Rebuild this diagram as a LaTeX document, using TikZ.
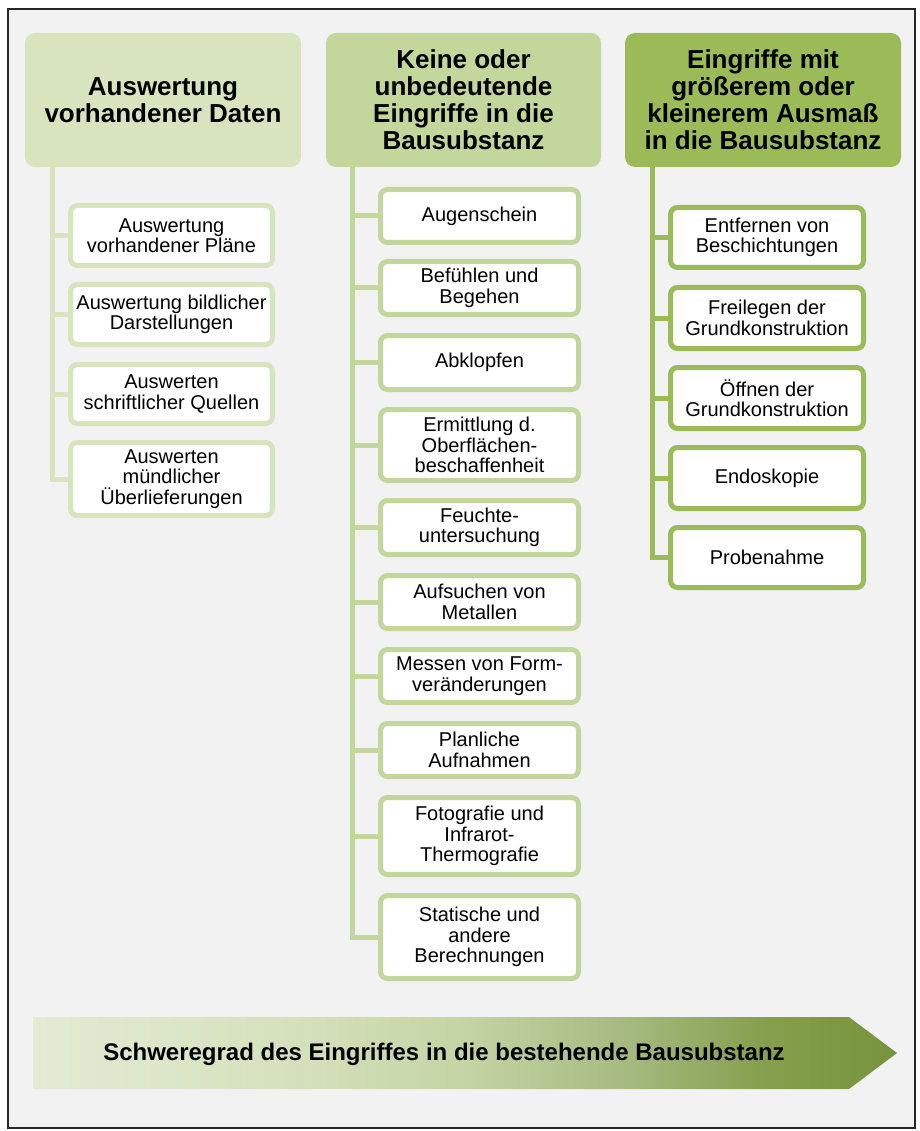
\documentclass[tikz,border=0pt]{standalone}
\usepackage{fontspec}
\setmainfont{Liberation Sans}
\definecolor{bg}{HTML}{F2F2F2}
\definecolor{gA}{HTML}{D7E4BD}
\definecolor{gB}{HTML}{C3D69B}
\definecolor{gC}{HTML}{9BBB59}
\definecolor{frame}{HTML}{262626}
\definecolor{s0}{HTML}{E3EBD5}
\definecolor{s1}{HTML}{D5E1BC}
\definecolor{s2}{HTML}{C4D4A4}
\definecolor{s3}{HTML}{A3B87D}
\definecolor{s4}{HTML}{86A04F}
\definecolor{s5}{HTML}{77933C}
\pgfdeclarehorizontalshading{arrowshade}{100bp}{color(0bp)=(s0); color(25bp)=(s0); color(40bp)=(s1); color(50bp)=(s2); color(60bp)=(s3); color(67bp)=(s4); color(75bp)=(s5); color(100bp)=(s5)}
\tikzset{
  hdr/.style={rounded corners=10pt, minimum height=134pt, inner sep=0pt, align=center,
    font=\fontsize{26}{27}\selectfont\bfseries},
  item/.style={rounded corners=7pt, line width=5pt, fill=white, inner sep=0pt, align=center,
    font=\fontsize{20}{20.5}\selectfont},
  itemA/.style={item, draw=gA, minimum width=202pt},
  itemB/.style={item, draw=gB, minimum width=198pt},
  itemC/.style={item, draw=gC, minimum width=193pt},
  conn/.style={line width=5pt},
}
\begin{document}
\begin{tikzpicture}[x=1pt, y=-1pt]
\useasboundingbox (0,0) rectangle (919,1131);
\fill[white] (0,0) rectangle (919,1131);
\draw[line width=2pt, draw=frame, fill=bg] (8,9) rectangle (915,1128);

% headers
\node[hdr, fill=gA, minimum width=276pt] (h1) at (163,100) {Auswertung\\vorhandener Daten};
\node[hdr, fill=gB, minimum width=275pt] (h2) at (463.5,100) {Keine oder\\unbedeutende\\Eingriffe in die\\Bausubstanz};
\node[hdr, fill=gC, minimum width=276pt] (h3) at (763,100) {Eingriffe mit\\größerem oder\\kleinerem Ausmaß\\in die Bausubstanz};

% trunk tops
\coordinate (t1) at ([xshift=27.5pt]h1.south west);
\coordinate (t2) at ([xshift=27pt]h2.south west);
\coordinate (t3) at ([xshift=28pt]h3.south west);

% column 1
\node[itemA, minimum height=60pt] (a1) at (171.5,235.5) {Auswertung\\vorhandener Pläne};
\node[itemA, minimum height=60pt] (a2) at (171.5,314.5) {Auswertung bildlicher\\Darstellungen};
\node[itemA, minimum height=59pt] (a3) at (171.5,394) {Auswerten\\schriftlicher Quellen};
\node[itemA, minimum height=73pt] (a4) at (171.5,479) {Auswerten\\mündlicher\\Überlieferungen};

% column 2
\node[itemB, minimum height=53pt] (b1) at (479.5,216) {Augenschein};
\node[itemB, minimum height=53pt] (b2) at (479.5,288) {Befühlen und\\Begehen};
\node[itemB, minimum height=54pt] (b3) at (479.5,362.5) {Abklopfen};
\node[itemB, minimum height=71pt] (b4) at (479.5,445) {Ermittlung d.\\Oberflächen-\\beschaffenheit};
\node[itemB, minimum height=54pt] (b5) at (479.5,527.5) {Feuchte-\\untersuchung};
\node[itemB, minimum height=53pt] (b6) at (479.5,602) {Aufsuchen von\\Metallen};
\node[itemB, minimum height=53pt] (b7) at (479.5,676) {Messen von Form-\\veränderungen};
\node[itemB, minimum height=53pt] (b8) at (479.5,750) {Planliche\\Aufnahmen};
\node[itemB, minimum height=77pt] (b9) at (479.5,836) {Fotografie und\\Infrarot-\\Thermografie};
\node[itemB, minimum height=83pt] (b10) at (479.5,937) {Statische und\\andere\\Berechnungen};

% column 3
\node[itemC, minimum height=60pt] (c1) at (767,237.5) {Entfernen von\\Beschichtungen};
\node[itemC, minimum height=61pt] (c2) at (767,318) {Freilegen der\\Grundkonstruktion};
\node[itemC, minimum height=61pt] (c3) at (767,398) {Öffnen der\\Grundkonstruktion};
\node[itemC, minimum height=61pt] (c4) at (767,478) {Endoskopie};
\node[itemC, minimum height=60pt] (c5) at (767,557.5) {Probenahme};

% connectors
\foreach \n in {a1,a2,a3,a4} \draw[conn, gA] (t1) |- (\n.west);
\foreach \n in {b1,b2,b3,b4,b5,b6,b7,b8,b9,b10} \draw[conn, gB] (t2) |- (\n.west);
\foreach \n in {c1,c2,c3,c4,c5} \draw[conn, gC] (t3) |- (\n.west);

% arrow
\shade[shading=arrowshade] (33,1017) -- (849,1017) -- (897,1053) -- (849,1089) -- (33,1089) -- cycle;
\node[font=\fontsize{24}{26}\selectfont\bfseries] (arr) at (444,1054) {Schweregrad des Eingriffes in die bestehende Bausubstanz};
\end{tikzpicture}
\end{document}
